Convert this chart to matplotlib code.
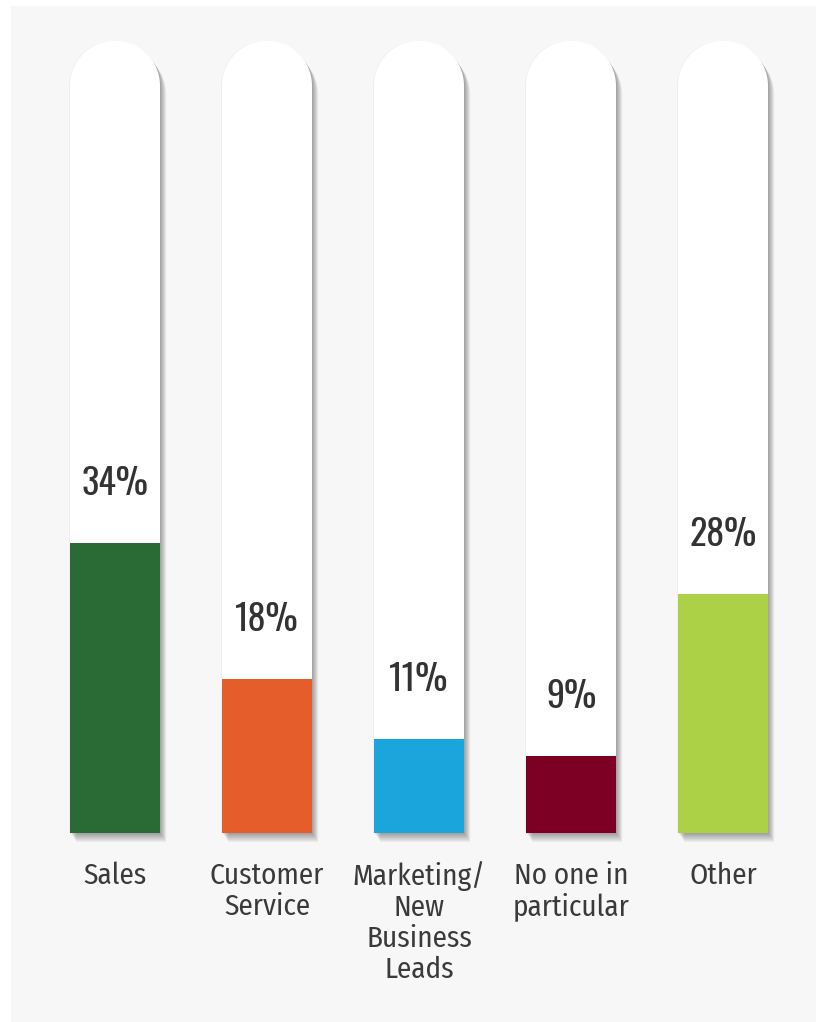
import numpy as np
import matplotlib
matplotlib.use("Agg")
import matplotlib.pyplot as plt
from matplotlib.patches import Rectangle, PathPatch
from matplotlib.path import Path
from matplotlib.transforms import offset_copy

# --- data -------------------------------------------------------------
categories = ["Sales", "Customer\nService", "Marketing/\nNew\nBusiness\nLeads",
              "No one in\nparticular", "Other"]
values = [34, 18, 11, 9, 28]
value_labels = ["34%", "18%", "11%", "9%", "28%"]
colors = ["#296a35", "#e45d2b", "#1aa6dd", "#7d0024", "#acd147"]

# --- layout -----------------------------------------------------------
W, H, DPI = 816, 1022, 100
first_center_px = 115      # pixel x of first column centre
step_px = 152              # pixel distance between columns
base_px = 833              # pixel y of the bar baseline
px_per_unit = 8.54         # vertical pixels per percentage point
bar_px = 90                # column width in pixels
tube_top = 87.5            # top of straight part of the tube (data units)

fig = plt.figure(figsize=(W / DPI, H / DPI), dpi=DPI, facecolor="white")
fig.patches.append(Rectangle((11 / W, 0), 1, 1 - 6 / H, transform=fig.transFigure,
                             facecolor="#f7f7f7", edgecolor="none", zorder=-10))

ax = fig.add_axes([0, 0, 1, 1], zorder=1)
ax.patch.set_visible(False)
ax.set_xlim(-first_center_px / step_px, (W - first_center_px) / step_px)
ax.set_ylim((base_px - H) / px_per_unit, base_px / px_per_unit)
ax.axis("off")

bar_w = bar_px / step_px
rx = bar_w / 2
ry = (bar_px / 2) / px_per_unit
x = np.arange(len(categories))


def tube_path(xc):
    t = np.linspace(0, np.pi, 60)
    arc = np.column_stack([xc + rx * np.cos(t), tube_top + ry * np.sin(t)])
    verts = np.vstack([[xc + rx, 0], arc, [xc - rx, 0], [xc + rx, 0]])
    codes = [Path.MOVETO] + [Path.LINETO] * (len(verts) - 2) + [Path.CLOSEPOLY]
    return Path(verts, codes)


# soft drop shadows behind each white tube
shadow_steps = [(1, 1), (2, 2), (3, 3), (4, 4), (5, 5), (6, 6), (7, 7), (8, 8), (9, 9)]
for xc in x:
    p = tube_path(xc)
    for dx, dy in shadow_steps:
        tr = offset_copy(ax.transData, fig=fig, x=dx * 0.7, y=-dy, units="dots")
        ax.add_patch(PathPatch(p, facecolor="black", edgecolor="none",
                               alpha=0.045, transform=tr, zorder=1))
    ax.add_patch(PathPatch(p, facecolor="black", edgecolor="none", alpha=0.03,
                           transform=offset_copy(ax.transData, fig=fig, x=-1, y=0, units="dots"),
                           zorder=1))
    ax.add_patch(PathPatch(p, facecolor="white", edgecolor="none", zorder=2))

# coloured fills
ax.bar(x, values, width=bar_w, color=colors, zorder=3, linewidth=0)

pct_font = "Oswald"
cat_font = "Fira Sans Condensed"
for xi, v, lab in zip(x, values, value_labels):
    ax.text(xi, v + 5.6, lab, ha="center", va="baseline", fontsize=26,
            family=pct_font, color="#333333", zorder=4)

for xi, cat in zip(x, categories):
    ax.text(xi, -(861 - base_px) / px_per_unit, cat, ha="center", va="top",
            fontsize=21, family=cat_font, color="#3a3a3a", linespacing=1.12,
            zorder=4)

fig.savefig("out.png", dpi=DPI, facecolor=fig.get_facecolor())
